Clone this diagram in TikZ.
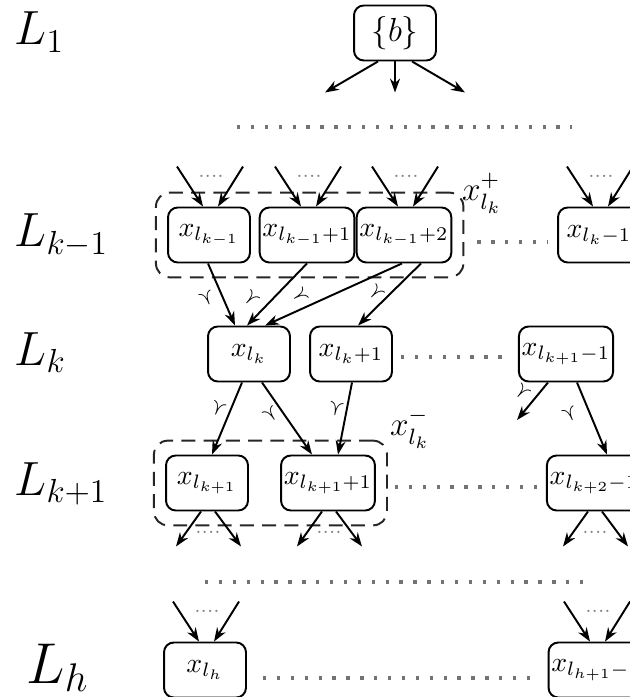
\documentclass[tikz,border=0pt]{standalone}
\usepackage{amsmath}
\usepackage{amssymb}
\usetikzlibrary{arrows.meta, calc, fit}

\begin{document}
\begin{tikzpicture}[
    x=0.36pt, y=-0.36pt,
    elem/.style = {
        rectangle,
        rounded corners=3.5pt,
        draw=black,
        line width=0.7pt,
        minimum width=29.5pt,
        minimum height=19.8pt,
        inner sep=1pt,
        fill=white
    },
    layer/.style = {anchor=base west, inner sep=0pt},
    arr/.style = {-{Stealth[length=5pt, width=3.6pt]}, line width=0.7pt},
    dotline/.style = {black!55, line width=1.2pt, dash pattern=on 1.2pt off 3.8pt},
    group/.style = {draw=black!85, line width=0.7pt, dash pattern=on 5pt off 3pt,
        rounded corners=5pt, inner xsep=4pt, inner ysep=5pt},
    vee/.style = {font=\footnotesize, inner sep=0pt},
    few/.style = {font=\scriptsize, text=gray, inner sep=0pt}
]

\clip (0,0) rectangle (630,697);

% layer names
\node[layer, font=\LARGE] (L1)  at (14,45)  {$L_1$};
\node[layer, font=\LARGE] (Lkm) at (14,247) {$L_{k-1}$};
\node[layer, font=\LARGE] (Lk)  at (14,365) {$L_k$};
\node[layer, font=\LARGE] (Lkp) at (14,495) {$L_{k+1}$};
\node[layer, font=\huge]  (Lh)  at (26,683) {$L_h$};

% root
\node[elem, font=\large] (b) at (395,33) {$\{b\}$};
\draw[arr] ($(b.south)+(-17,0)$) -- ($(b.south)+(-70,31)$);
\draw[arr] (b.south) -- ($(b.south)+(0,31)$);
\draw[arr] ($(b.south)+(17,0)$) -- ($(b.south)+(70,31)$);
\draw[dotline] (237,127) -- (572,127);

% layer k-1
\node[elem] (A1) at (209,235) {$x_{l_{k-1}}$};
\node[elem] (A2) at (307,235) {$x_{l_{k-1}+1}$};
\node[elem] (A3) at (404,235) {$x_{l_{k-1}+2}$};
\node[elem] (A4) at (599,235) {$x_{l_k-1}$};
\node[group, fit=(A1)(A3)] (gplus) {};
\node[font=\large, inner sep=1pt] (xplus) at (482,193) {$x^{+}_{l_k}$};
\draw[dotline] ($(A3.east)+(25,7)$) -- ($(A4.west)+(-10,7)$);

% layer k
\node[elem] (B1) at (249,354) {$x_{l_k}$};
\node[elem] (B2) at (351,354) {$x_{l_k+1}$};
\node[elem] (B3) at (566,354) {$x_{l_{k+1}-1}$};
\draw[dotline] ($(B2.east)+(8,3)$) -- ($(B3.west)+(-10,3)$);

% layer k+1
\node[elem] (C1) at (207,483) {$x_{l_{k+1}}$};
\node[elem] (C2) at (328,483) {$x_{l_{k+1}+1}$};
\node[elem] (C3) at (594,483) {$x_{l_{k+2}-1}$};
\node[group, fit=(C1)(C2)] (gminus) {};
\node[font=\large, inner sep=1pt] (xminus) at (410,428) {$x^{-}_{l_k}$};
\draw[dotline] ($(C2.east)+(19,4)$) -- ($(C3.west)+(-8,4)$);
\draw[dotline] (205,582) -- (585,582);

% layer h
\node[elem] (D1) at (205,670) {$x_{l_h}$};
\node[elem] (D2) at (596,670) {$x_{l_{h+1}-1}$};
\draw[dotline] ($(D1.east)+(16,8)$) -- ($(D2.west)+(-15,8)$);

% arrows coming in from above
\foreach \n in {A1,A2,A3,A4,D1,D2} {
    \draw[arr] ($(\n.north)+(-32,-40)$) -- ($(\n.north)+(-6,0)$);
    \draw[arr] ($(\n.north)+(34,-40)$) -- ($(\n.north)+(9,0)$);
    \node[few] at ($(\n.north)+(2,-30)$) {....};
}

% arrows going out below
\foreach \n in {C1,C2,C3} {
    \draw[arr] ($(\n.south)+(-6,0)$) -- ($(\n.south)+(-31,35)$);
    \draw[arr] ($(\n.south)+(8,0)$) -- ($(\n.south)+(34,35)$);
    \node[few] at ($(\n.south)+(1,21)$) {....};
}

% k-1 -> k
\draw[arr] ($(A1.south)+(-1,0)$) -- ($(B1.north)+(-14,0)$);
\draw[arr] (A2.south) -- ($(B1.north)+(-2,0)$);
\draw[arr] ($(A3.south)+(-2,0)$) -- ($(B1.north)+(16,0)$);
\draw[arr] ($(A3.south)+(17,0)$) -- ($(B2.north)+(7,0)$);
\node[vee, rotate=22]  (v1) at (207,299) {$\curlyvee$};
\node[vee, rotate=-43] (v2) at (251,299) {$\curlyvee$};
\node[vee, rotate=-60] (v3) at (300,296) {$\curlyvee$};
\node[vee, rotate=-44] (v4) at (376,293) {$\curlyvee$};

% k -> k+1
\coordinate (free) at (517,420);
\draw[arr] ($(B1.south)+(-7,0)$) -- ($(C1.north)+(5,0)$);
\draw[arr] ($(B1.south)+(13,0)$) -- ($(C2.north)+(-16,0)$);
\draw[arr] ($(B2.south)+(1,0)$) -- ($(C2.north)+(10,0)$);
\draw[arr] ($(B3.south)+(-18,0)$) -- (free);
\draw[arr] ($(B3.south)+(11,0)$) -- ($(C3.north)+(13,0)$);
\node[vee, rotate=-22] (v5) at (218,409) {$\curlyvee$};
\node[vee, rotate=34]  (v6) at (271,415) {$\curlyvee$};
\node[vee, rotate=-11] (v7) at (336,409) {$\curlyvee$};
\node[vee, rotate=-40] (v8) at (522,392) {$\curlyvee$};
\node[vee, rotate=23]  (v9) at (570,415) {$\curlyvee$};

\end{tikzpicture}
\end{document}
